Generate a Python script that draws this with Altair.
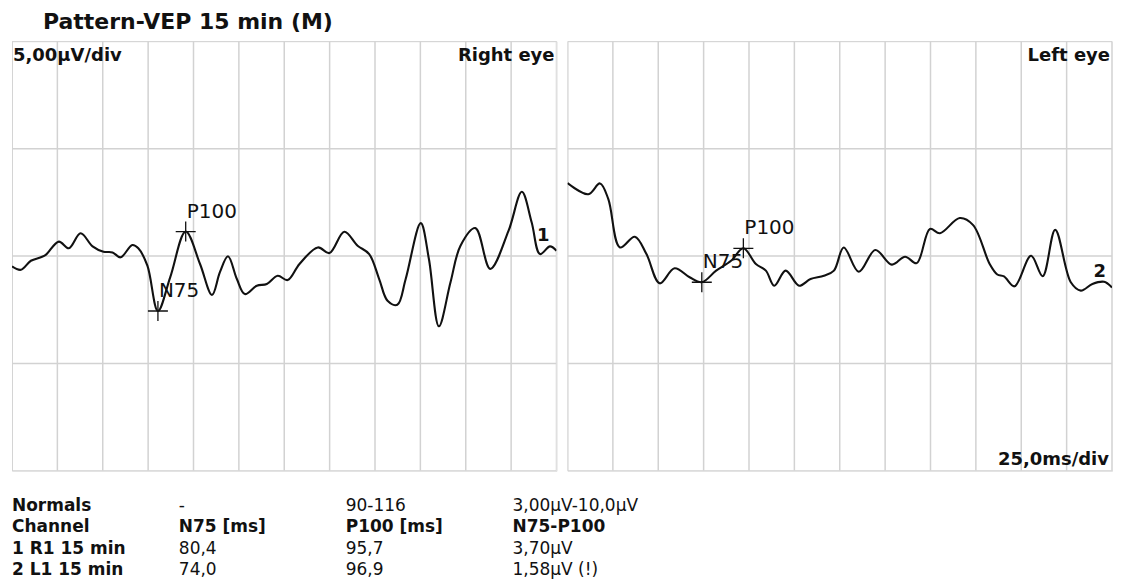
import altair as alt
import pandas as pd

TITLE = "Pattern-VEP 15 min (M)"

# Right eye trace (time in ms, amplitude in µV)
t_right = [0, 4.9, 10.4, 15.9, 18.6, 25.8, 31.3, 37.8, 44.4, 50.4, 55.4, 59.8, 66.3, 69.6,
           74.6, 80.4, 87.2, 95.7, 103.6, 110.2, 114.6, 119.0, 123.9, 128.3, 134.9, 140.4,
           146.4, 151.9, 158.4, 168.5, 174.9, 183.1, 190.4, 196.8, 202.3, 206.9, 212.3,
           216.9, 225.2, 229.7, 235.2, 241.6, 247.1, 255.3, 263.5, 273.6, 280.9, 286.3,
           290.9, 296.4, 300]
v_right = [-0.48, -0.64, -0.22, -0.06, 0.05, 0.67, 0.36, 1.06, 0.45, 0.20, 0.17, -0.06, 0.51,
           0.36, -0.45, -2.56, -0.98, 1.14, -0.37, -1.81, -0.74, -0.01, -1.07, -1.77, -1.38,
           -1.30, -0.92, -1.12, -0.37, 0.40, 0.14, 1.13, 0.48, 0.09, -1.07, -2.08, -2.27,
           -1.07, 1.53, -0.14, -3.27, -1.22, 0.48, 1.30, -0.60, 1.18, 2.99, 1.57, 0.09,
           0.45, 0.25]

# Left eye trace
t_left = [0, 11.5, 17.9, 22.5, 28.9, 37.1, 43.5, 50.8, 59.0, 67.3, 74.0, 81.9, 90.1, 96.9,
          103.8, 109.3, 113.9, 120.2, 127.6, 133.9, 141.3, 146.8, 152.2, 160.5, 169.6, 178.7,
          186.0, 192.4, 199.7, 205.2, 216.1, 223.5, 232.6, 236.8, 240.5, 246.3, 255.4, 261.8,
          268.7, 277.3, 282.8, 289.2, 295.6, 300]
v_left = [3.40, 2.88, 3.38, 2.65, 0.40, 0.90, 0.09, -1.27, -0.57, -0.99, -1.22, -0.68, -0.22,
          0.36, -0.37, -0.68, -1.38, -0.68, -1.38, -1.07, -0.92, -0.68, 0.40, -0.73, 0.28,
          -0.40, -0.03, -0.33, 1.26, 1.06, 1.77, 1.44, -0.37, -0.86, -0.95, -1.41, 0.01,
          -0.94, 1.22, -1.22, -1.61, -1.30, -1.20, -1.46]

peak_names = ["N75", "P100"]
right_peak_ms = [80.4, 95.7]
right_peak_uv = [-2.56, 1.14]
left_peak_ms = [74.0, 96.9]
left_peak_uv = [-1.22, 0.36]

x_ticks = [0, 25, 50, 75, 100, 125, 150, 175, 200, 225, 250, 275, 300]
y_ticks = [-10, -5, 0, 5, 10]

table_rows = ["Normals", "Channel", "1 R1 15 min", "2 L1 15 min"]
col_n75 = ["-", "N75 [ms]", "80,4", "74,0"]
col_p100 = ["90-116", "P100 [ms]", "95,7", "96,9"]
col_amp = ["3,00µV-10,0µV", "N75-P100", "3,70µV", "1,58µV (!)"]

FONT = "DejaVu Sans"
INK = "#111111"
GRID = "#d2d2d2"
W, H = 545, 430
one = pd.DataFrame({"k": [0]})


def panel(t, v, pk_ms, pk_uv, eye, ch, ch_x, ch_y, show_scale):
    xs = alt.Scale(domain=[0, 300], nice=False, zero=False)
    ys = alt.Scale(domain=[-10, 10], nice=False, zero=False)
    X = alt.X("ms:Q", scale=xs, axis=None)
    Y = alt.Y("uv:Q", scale=ys, axis=None)

    vgrid = alt.Chart(pd.DataFrame({"ms": x_ticks})).mark_rule(
        color=GRID, strokeWidth=1.5, clip=True).encode(x=X)
    hgrid = alt.Chart(pd.DataFrame({"uv": y_ticks})).mark_rule(
        color=GRID, strokeWidth=1.5, clip=True).encode(y=Y)

    trace = pd.DataFrame({"ms": t, "uv": v})
    line = alt.Chart(trace).mark_line(color=INK, strokeWidth=2.1, strokeJoin="round",
                                      clip=True, interpolate="catmull-rom").encode(x=X, y=Y)

    pk = pd.DataFrame({"name": peak_names, "ms": pk_ms, "uv": pk_uv})
    cross = alt.Chart(pk).mark_point(shape="M-1,0L1,0M0,-1L0,1", size=400, filled=False,
                                     stroke=INK, strokeWidth=1.3, opacity=1).encode(x=X, y=Y)
    plab = alt.Chart(pk).mark_text(align="left", baseline="alphabetic", dx=1, dy=-14,
                                   font=FONT, fontSize=20, color=INK).encode(
        x=X, y=Y, text="name:N")

    layers = [vgrid, hgrid, line, cross, plab]
    txt = dict(font=FONT, fontSize=18, fontWeight="bold", color=INK, baseline="alphabetic")
    layers.append(alt.Chart(one).mark_text(align="right", text=eye, **txt).encode(
        x=alt.value(W - 2), y=alt.value(20)))
    layers.append(alt.Chart(one).mark_text(align="right", text=ch, **txt).encode(
        x=alt.value(ch_x), y=alt.value(ch_y)))
    if show_scale:
        layers.append(alt.Chart(one).mark_text(align="left", text="5,00µV/div", **txt).encode(
            x=alt.value(1), y=alt.value(20)))
    else:
        layers.append(alt.Chart(one).mark_text(align="right", text="25,0ms/div", **txt).encode(
            x=alt.value(W - 3), y=alt.value(H - 6)))
    return alt.layer(*layers).properties(width=W, height=H)


right_panel = panel(t_right, v_right, right_peak_ms, right_peak_uv, "Right eye", "1",
                    538, 200, True)
left_panel = panel(t_left, v_left, left_peak_ms, left_peak_uv, "Left eye", "2",
                   539, 236, False)

rows = []
cols = [table_rows, col_n75, col_p100, col_amp]
for r in range(len(table_rows)):
    for c, col in enumerate(cols):
        rows.append({"row": r, "col": c, "text": col[r], "bold": (c == 0 or r == 1)})
tdf = pd.DataFrame(rows)
TW, TH = 501, 82
tenc = dict(
    x=alt.X("col:O", scale=alt.Scale(type="point", padding=0, domain=[0, 1, 2, 3]), axis=None),
    y=alt.Y("row:O", scale=alt.Scale(type="point", padding=0, domain=[0, 1, 2, 3],
                                     range=[14, 78.5]), axis=None),
    text="text:N",
)
tb = alt.Chart(tdf).transform_filter("datum.bold").mark_text(
    align="left", baseline="alphabetic", font=FONT, fontSize=17, fontWeight="bold",
    color=INK).encode(**tenc)
tr = alt.Chart(tdf).transform_filter("!datum.bold").mark_text(
    align="left", baseline="alphabetic", font=FONT, fontSize=17, color=INK).encode(**tenc)
table = alt.layer(tb, tr).properties(width=TW, height=TH,
                                     view=alt.ViewBackground(stroke=None))

top = alt.hconcat(right_panel, left_panel, spacing=11, bounds="flush")
chart = alt.vconcat(top, table, spacing=25).properties(
    title=alt.TitleParams(text=TITLE, anchor="start", dx=31, offset=6.5, fontSize=22,
                          font=FONT, fontWeight="bold", color=INK, frame="group"),
    padding={"left": 3, "top": 3, "right": 0, "bottom": 0},
).configure_view(stroke="#b8b8b8", strokeWidth=1.5).configure(font=FONT)

chart.save("out.html", embed_options={"renderer": "svg", "actions": False})
